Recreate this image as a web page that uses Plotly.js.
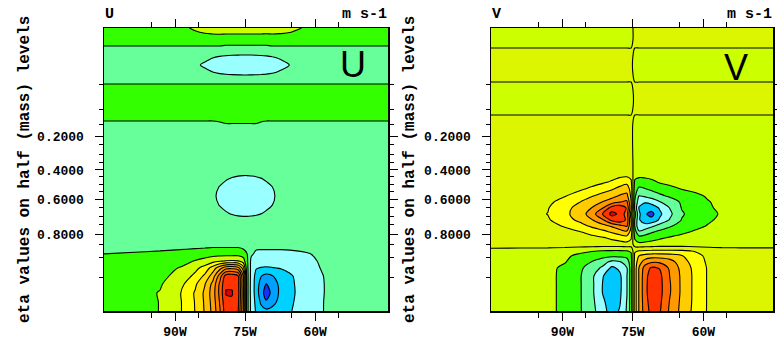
<!DOCTYPE html>
<html><head><meta charset="utf-8">
<script src="https://cdn.plot.ly/plotly-3.0.1.min.js"></script>
<style>html,body{margin:0;padding:0;background:#fff}#chart{width:777px;height:339px}</style>
</head><body><div id="chart"></div>
<script>
// ---------- U panel (m s-1), grid ----------
const uLon = [-105.2, -98.6, -93.2, -88.9, -85.7, -83.6, -81.9, -80.4, -79.1, -77.8, -76.5, -75.4, -74.6, -73.7, -72.6, -71.6, -70.5, -69.2, -67.5, -65.4, -62.1, -57.9, -53.6, -44.4];
const uLevel = [0, 0.95, 1.91, 2.86, 3.71, 4.56, 5.30, 6.04, 6.78, 7.74, 8.80, 9.44, 10.39, 11.24, 12.19, 13.15, 13.99, 14.95, 15.80, 18.13, 19.51, 20.78, 23.43, 24.70, 25.34, 26.08, 26.82, 27.46, 28.73, 30.0];
const uGrid = [
 [3.0, 3.3, 4.05, 5.8, 8.05, 10.2, 12.6, 15.8, 19.2, 19.4, 18.2, 12.3, 3.0, -0.6, -2.3, -3.3, -3.5, -3.3, -2.9, -2.1, -1.3, 0.1, 0.9, 1.1],
 [3.0, 3.3, 4.05, 5.8, 8.1, 10.3, 12.8, 16.2, 19.6, 19.8, 18.6, 12.5, 3.0, -0.6, -2.6, -4.3, -5.8, -4.8, -3.3, -2.2, -1.4, 0.1, 0.9, 1.1],
 [3.0, 3.3, 4.1, 5.9, 8.2, 10.4, 13.0, 16.6, 20.1, 20.1, 18.9, 12.6, 3.0, -0.7, -2.9, -5.2, -6.8, -5.6, -3.6, -2.3, -1.4, 0.05, 0.9, 1.1],
 [3.0, 3.3, 3.8, 5.4, 7.6, 9.9, 12.6, 16.4, 19.8, 19.8, 18.7, 12.4, 3.0, -0.7, -2.9, -4.8, -6.1, -5.2, -3.5, -2.3, -1.3, 0.05, 0.9, 1.1],
 [2.9, 3.1, 3.6, 4.5, 6.5, 8.4, 11.0, 15.0, 19.0, 19.2, 18.3, 12.2, 3.0, -0.6, -2.7, -3.9, -4.6, -4.1, -3.2, -2.2, -1.2, 0.1, 0.9, 1.1],
 [2.7, 2.9, 3.3, 4.1, 5.4, 6.8, 8.9, 11.3, 13.2, 13.5, 12.8, 9.0, 2.8, -0.5, -1.9, -2.1, -2.2, -2.1, -1.9, -1.6, -0.9, 0.3, 1.0, 1.1],
 [2.4, 2.6, 2.9, 3.3, 4.1, 4.6, 5.3, 5.8, 6.1, 6.2, 6.1, 5.0, 2.5, -0.4, -0.9, -1.0, -1.0, -1.0, -1.0, -0.9, -0.6, 0.4, 1.0, 1.1],
 [2.02, 2.2, 2.4, 2.7, 3.0, 3.2, 3.3, 3.3, 3.3, 3.3, 3.3, 3.0, 2.1, 0.3, -0.4, -0.5, -0.5, -0.5, -0.5, -0.45, -0.2, 0.5, 1.0, 1.0],
 [1.3, 1.4, 1.5, 1.6, 1.7, 1.8, 1.9, 1.9, 1.9, 1.9, 1.9, 1.6, 1.2, 0.6, 0.3, 0.3, 0.3, 0.3, 0.3, 0.35, 0.6, 0.9, 1.0, 1.0],
 [1, 1, 1, 1, 1, 1, 1, 1, 1, 1, 1, 1, 1, 1, 1, 1, 1, 1, 1, 1, 1, 1, 1, 1],
 [1, 1, 1, 1, 1, 1, 1, 1, 1, 1, 1, 1, 1, 1, 1, 1, 1, 1, 1, 1, 1, 1, 1, 1],
 [1, 1, 1, 1, 1, 1, 1, 1, 1, 1, 0.95, 0.9, 0.9, 0.95, 1, 1, 1, 1, 1, 1, 1, 1, 1, 1],
 [1, 1, 1, 1, 1, 1, 1, 0.64, 0.15, -0.21, -0.45, -0.54, -0.55, -0.49, -0.35, -0.11, 0.22, 0.74, 1, 1, 1, 1, 1, 1],
 [1, 1, 1, 1, 1, 1, 0.64, -0.11, -0.61, -0.97, -1.20, -1.29, -1.30, -1.25, -1.10, -0.86, -0.53, -0.03, 0.88, 1, 1, 1, 1, 1],
 [1, 1, 1, 1, 1, 1, 0.34, -0.41, -0.90, -1.26, -1.50, -1.59, -1.60, -1.54, -1.40, -1.16, -0.83, -0.31, 0.59, 1, 1, 1, 1, 1],
 [1, 1, 1, 1, 1, 1, 0.64, -0.11, -0.61, -0.97, -1.20, -1.29, -1.30, -1.25, -1.10, -0.86, -0.53, -0.03, 0.88, 1, 1, 1, 1, 1],
 [1, 1, 1, 1, 1, 1, 1, 0.64, 0.15, -0.21, -0.45, -0.54, -0.55, -0.49, -0.35, -0.11, 0.22, 0.74, 1, 1, 1, 1, 1, 1],
 [1, 1, 1, 1, 1, 1, 1, 1, 1, 1, 0.95, 0.9, 0.9, 0.95, 1, 1, 1, 1, 1, 1, 1, 1, 1, 1],
 [1, 1, 1, 1, 1, 1, 1, 1, 1, 1, 1, 1, 1, 1, 1, 1, 1, 1, 1, 1, 1, 1, 1, 1],
 [1, 1, 1, 1, 1, 1, 1, 1, 1, 1, 1, 1, 1, 1, 1, 1, 1, 1, 1, 1, 1, 1, 1, 1],
 [1, 1, 1, 1, 1, 1, 1, 1.3, 1.6, 1.6, 1.6, 1.6, 1.6, 1.6, 1.6, 1.3, 1, 1, 1, 1, 1, 1, 1, 1],
 [3, 3, 3, 3, 3, 3, 3, 3, 3, 3, 3, 3, 3, 3, 3, 3, 3, 3, 3, 3, 3, 3, 3, 3],
 [3, 3, 3, 3, 3, 3, 3, 3, 3, 3, 3, 3, 3, 3, 3, 3, 3, 3, 3, 3, 3, 3, 3, 3],
 [1, 1, 1, 1, 1, 1, 1, 1, 1, 1, 1, 1, 1, 1, 1, 1, 1, 1, 1, 1, 1, 1, 1, 1],
 [1, 1, 1, 1, 1, 0.53, -0.02, -0.38, -0.63, -0.81, -0.92, -0.97, -0.97, -0.94, -0.86, -0.73, -0.55, -0.28, 0.18, 0.93, 1, 1, 1, 1],
 [1, 1, 1, 1, 0.45, -0.40, -0.94, -1.31, -1.56, -1.74, -1.85, -1.90, -1.90, -1.87, -1.79, -1.66, -1.49, -1.22, -0.75, 0.05, 1, 1, 1, 1],
 [1, 1, 1, 1, 1, 0.53, -0.02, -0.38, -0.63, -0.81, -0.92, -0.97, -0.97, -0.94, -0.86, -0.73, -0.55, -0.28, 0.18, 0.93, 1, 1, 1, 1],
 [1, 1, 1, 1, 1, 1, 1, 1, 1, 1, 1, 1, 1, 1, 1, 1, 1, 1, 1, 1, 1, 1, 1, 1],
 [3, 3, 3, 3, 3, 3, 3, 3, 2.8, 2.8, 2.8, 2.8, 2.8, 2.8, 2.8, 2.8, 2.8, 3, 3, 3, 3, 3, 3, 3],
 [3, 3, 3, 3.5, 4.3, 4.8, 5.0, 5.1, 5.2, 5.2, 5.2, 5.2, 5.2, 5.2, 5.2, 5.2, 5.1, 5.0, 4.9, 4.6, 3.8, 3.2, 3, 3]
];
const uContour = {start: -6, end: 20, size: 2};
const uColors = ['#1432ff', '#00a0ff', '#00d2ff', '#99ffff', '#66ff99', '#33ff00', '#ccff00', '#ffff00', '#ffe000', '#ffc000', '#ffa000', '#ff8000', '#ff6000', '#ff3300', '#dd0000'];

// ---------- V panel (m s-1) ----------
const vLon = [-105.2, -99.0, -93.1, -89.5, -86.3, -83.7, -81.4, -79.5, -77.8, -76.3, -75.4, -74.6, -73.7, -72.4, -71.0, -69.3, -67.1, -64.6, -61.8, -59.0, -56.1, -52.2, -45.2];
const vLevel = [0, 0.95, 1.91, 2.86, 3.71, 4.56, 5.19, 5.83, 6.36, 7.10, 7.74, 8.37, 9.01, 9.65, 10.28, 10.92, 11.56, 12.19, 12.93, 13.68, 14.42, 15.48, 20.04, 21.52, 23.43, 25.12, 27.03, 28.73, 30.0];
const vGrid = [
 [-0.5, -0.55, -0.75, -1.25, -1.9, -2.7, -3.6, -4.5, -3.9, -2.9, -1.5, 1.5, 3.1, 4.6, 5.3, 5.1, 3.8, 2.7, 1.7, 0.9, 0.6, 0.5, 0.5],
 [-0.5, -0.55, -0.75, -1.25, -1.9, -2.75, -3.8, -4.6, -4.1, -2.95, -1.5, 1.5, 3.1, 4.7, 5.4, 5.2, 3.9, 2.75, 1.75, 0.9, 0.6, 0.5, 0.5],
 [-0.5, -0.55, -0.75, -1.25, -1.9, -2.8, -4.05, -4.7, -4.2, -3.05, -1.5, 1.5, 3.1, 4.8, 5.45, 5.3, 4.05, 2.8, 1.75, 0.9, 0.6, 0.5, 0.5],
 [-0.5, -0.55, -0.75, -1.25, -1.9, -2.8, -4.05, -4.7, -4.25, -3.05, -1.5, 1.5, 3.1, 4.8, 5.45, 5.3, 4.05, 2.8, 1.75, 0.9, 0.6, 0.5, 0.5],
 [-0.5, -0.55, -0.75, -1.25, -1.9, -2.8, -3.95, -4.6, -4.2, -3.05, -1.5, 1.5, 3.1, 4.75, 5.4, 5.25, 3.95, 2.8, 1.75, 0.9, 0.6, 0.5, 0.5],
 [-0.5, -0.55, -0.75, -1.2, -1.8, -2.5, -3.2, -4.2, -3.8, -3.05, -1.5, 1.5, 3.05, 4.5, 5.15, 4.95, 3.8, 2.7, 1.7, 0.9, 0.6, 0.5, 0.5],
 [-0.5, -0.55, -0.7, -0.95, -1.5, -2.05, -2.6, -3.3, -3.1, -2.6, -1.4, 1.4, 2.6, 3.5, 3.9, 3.85, 3.4, 2.5, 1.5, 0.85, 0.6, 0.5, 0.5],
 [-0.5, -0.5, -0.6, -0.85, -1.2, -1.5, -1.7, -1.8, -1.8, -1.7, -1.2, 1.2, 2.05, 2.4, 2.6, 2.6, 2.5, 2.1, 1.3, 0.8, 0.6, 0.5, 0.5],
 [-0.4, -0.45, -0.5, -0.6, -0.8, -0.95, -1.05, -1.1, -1.1, -1.05, -0.9, 0.9, 1.05, 1.15, 1.2, 1.2, 1.2, 1.15, 0.95, 0.7, 0.55, 0.5, 0.5],
 [0.6, 0.6, 0.6, 0.6, 0.6, 0.6, 0.6, 0.6, 0.6, 0.7, 0.6, -0.6, -0.8, -0.75, -0.7, -0.6, -0.6, -0.6, -0.6, -0.6, -0.6, -0.6, -0.6],
 [0.5, 0.5, 0.55, 0.6, 0.65, 0.75, 0.9, 1.15, 1.4, 1.55, 1.1, -1.1, -1.6, -1.5, -1.3, -1.1, -0.9, -0.75, -0.65, -0.55, -0.5, -0.5, -0.5],
 [0.5, 0.5, 0.6, 0.7, 0.95, 1.3, 1.7, 2.1, 2.5, 2.8, 1.6, -1.6, -2.8, -2.5, -2.1, -1.75, -1.45, -1.15, -0.9, -0.7, -0.6, -0.5, -0.5],
 [0.5, 0.55, 0.7, 1.08, 1.6, 2.2, 2.65, 3.15, 3.7, 4.1, 2.05, -2.05, -3.95, -3.6, -3.2, -2.6, -2.1, -1.6, -1.2, -0.95, -0.75, -0.55, -0.5],
 [0.5, 0.6, 0.9, 1.55, 2.25, 2.95, 3.9, 5.3, 5.7, 4.8, 2.05, -2.05, -3.9, -4.6, -4.7, -3.85, -2.9, -1.95, -1.5, -1.1, -0.85, -0.6, -0.5],
 [0.5, 0.6, 1.02, 1.75, 2.5, 3.5, 5.05, 6.3, 5.8, 4.5, 1.5, -1.5, -3.8, -4.9, -5.3, -4.2, -3.2, -2.1, -1.6, -1.25, -0.9, -0.6, -0.5],
 [0.5, 0.6, 0.95, 1.7, 2.35, 3.05, 3.98, 5.5, 5.8, 4.9, 2.3, -2.3, -4.1, -4.8, -4.6, -3.9, -2.95, -1.95, -1.55, -1.1, -0.85, -0.6, -0.5],
 [0.5, 0.55, 0.8, 1.35, 1.98, 2.5, 3.05, 3.5, 3.95, 4.2, 2.05, -2.05, -3.6, -3.85, -3.6, -3.05, -2.5, -1.85, -1.4, -1.05, -0.75, -0.55, -0.5],
 [0.5, 0.5, 0.6, 0.95, 1.45, 1.95, 2.35, 2.7, 3.1, 3.3, 1.8, -1.8, -3.05, -2.85, -2.6, -2.2, -1.85, -1.5, -1.2, -0.9, -0.65, -0.5, -0.5],
 [0.5, 0.5, 0.5, 0.6, 0.85, 1.2, 1.6, 1.9, 2.3, 2.6, 1.6, -1.6, -2.2, -2.05, -1.8, -1.55, -1.3, -0.98, -0.8, -0.65, -0.55, -0.5, -0.5],
 [0.5, 0.5, 0.5, 0.5, 0.55, 0.65, 0.85, 1.1, 1.5, 1.7, 1.2, -1.2, -1.5, -1.4, -1.2, -0.9, -0.7, -0.6, -0.55, -0.5, -0.5, -0.5, -0.5],
 [0.5, 0.5, 0.5, 0.5, 0.5, 0.55, 0.6, 0.65, 0.7, 0.75, 0.6, -0.6, -0.7, -0.7, -0.65, -0.6, -0.55, -0.5, -0.5, -0.5, -0.5, -0.5, -0.5],
 [0.5, 0.5, 0.5, 0.5, 0.5, 0.5, 0.5, 0.5, 0.5, 0.5, 0.5, -0.5, -0.5, -0.5, -0.5, -0.5, -0.5, -0.5, -0.5, -0.5, -0.5, -0.5, -0.5],
 [0.5, 0.5, 0.5, 0.5, 0.5, 0.5, 0.5, 0.5, 0.5, 0.5, 0.5, -0.5, -0.5, -0.5, -0.5, -0.5, -0.5, -0.5, -0.5, -0.5, -0.5, -0.5, -0.5],
 [-0.5, -0.5, -0.5, -0.5, -0.5, -0.5, -0.5, -0.5, -0.5, -0.5, -0.5, 0.5, 0.5, 0.5, 0.5, 0.5, 0.5, 0.5, 0.5, 0.5, 0.5, 0.5, 0.5],
 [-0.5, -0.5, -0.5, -0.5, -0.5, -0.5, -0.5, -0.5, -0.5, -0.5, -0.5, 0.5, 0.5, 0.5, 0.5, 0.5, 0.5, 0.5, 0.5, 0.5, 0.5, 0.5, 0.5],
 [0.5, 0.5, 0.5, 0.5, 0.5, 0.5, 0.5, 0.5, 0.5, 0.5, 0.5, -0.5, -0.5, -0.5, -0.5, -0.5, -0.5, -0.5, -0.5, -0.5, -0.5, -0.5, -0.5],
 [0.5, 0.5, 0.5, 0.5, 0.5, 0.5, 0.5, 0.5, 0.5, 0.5, 0.5, -0.5, -0.5, -0.5, -0.5, -0.5, -0.5, -0.5, -0.5, -0.5, -0.5, -0.5, -0.5],
 [-0.5, -0.5, -0.5, -0.5, -0.5, -0.5, -0.5, -0.5, -0.5, -0.5, -0.5, 0.5, 0.5, 0.5, 0.5, 0.5, 0.5, 0.5, 0.5, 0.5, 0.5, 0.5, 0.5],
 [-0.5, -0.5, -0.5, -0.5, -0.5, -0.5, -0.5, -0.5, -0.5, -0.5, -0.5, 0.5, 0.5, 0.5, 0.5, 0.5, 0.5, 0.5, 0.5, 0.5, 0.5, 0.5, 0.5]
];
const vContour = {start: -5, end: 6, size: 1};
const vColors = ['#1e32ff', '#00c8ff', '#99ffff', '#66ff99', '#33ff00', '#ccff00', '#dcf500', '#ffff00', '#ffcc00', '#ff9900', '#ff6600', '#ff3300', '#ee0000'];

// ---------- ticks ----------
const lonTickVals = [-90, -75, -60];
const lonTickText = ['90W', '75W', '60W'];
const lonMinorVals = [-95, -85, -65, -55];
const etaTickPos = [18.55, 14.95, 11.87, 8.16];
const etaTickText = ['0.2000', '0.4000', '0.6000', '0.8000'];
const etaMinorPos = [23.96, 21.41, 19.72, 17.60, 16.54, 15.69, 14.21, 13.46, 12.72, 10.92, 9.97, 9.12, 7.00, 5.62, 3.50];

function stepScale(colors) {
  const n = colors.length, s = [];
  colors.forEach((c, i) => {
    s.push([Math.max(0, (i - 0.5) / (n - 1)), c]);
    s.push([Math.min(1, (i + 0.5) / (n - 1)), c]);
  });
  return s;
}

function contourTrace(x, y, z, c, colors, xa, ya) {
  return {
    type: 'contour', x: x, y: y, z: z, xaxis: xa, yaxis: ya,
    autocontour: false,
    contours: {start: c.start, end: c.end, size: c.size, coloring: 'fill', showlines: true},
    colorscale: stepScale(colors), showscale: false,
    line: {color: '#000', width: 1.1, smoothing: 0.9},
    hoverinfo: 'skip'
  };
}

const W = 777, H = 339;
const tickFont = {family: 'Liberation Mono, monospace', size: 13, color: '#000', weight: 'bold'};
function xAxis(domain, range, anchor) {
  return {
    domain: domain, range: range, anchor: anchor,
    tickmode: 'array', tickvals: lonTickVals, ticktext: lonTickText,
    ticks: 'outside', ticklen: 8, tickwidth: 1, tickcolor: '#000',
    minor: {tickmode: 'array', tickvals: lonMinorVals, ticks: 'outside', ticklen: 5, tickwidth: 1, tickcolor: '#000', showgrid: false},
    showline: true, linecolor: '#000', linewidth: 1.5, mirror: 'allticks',
    showgrid: false, zeroline: false, tickfont: tickFont, ticklabelstandoff: 0, fixedrange: true
  };
}
function yAxis(anchor) {
  return {
    domain: [(H - 311) / H, (H - 28) / H], range: [0, 30], anchor: anchor,
    tickmode: 'array', tickvals: etaTickPos, ticktext: etaTickText,
    ticks: 'outside', ticklen: 8, tickwidth: 1, tickcolor: '#000',
    minor: {tickmode: 'array', tickvals: etaMinorPos, ticks: 'outside', ticklen: 4, tickwidth: 1, tickcolor: '#000', showgrid: false},
    showline: true, linecolor: '#000', linewidth: 1.5, mirror: 'allticks',
    showgrid: false, zeroline: false, tickfont: tickFont, ticklabelstandoff: 8, fixedrange: true
  };
}

const smallFont = {family: 'Liberation Mono, monospace', size: 15, color: '#000', weight: 'bold'};
const bigFont = {family: 'Liberation Sans, Arial, sans-serif', size: 36, color: '#000'};
const titleFont = {family: 'Liberation Mono, monospace', size: 16, color: '#000', weight: 'bold'};
function ann(text, px, py, xanchor, font, angle) {
  return {text: text, x: px / W, y: 1 - py / H, xref: 'paper', yref: 'paper', xanchor: xanchor, yanchor: 'middle',
          showarrow: false, font: font, textangle: angle || 0};
}

const data = [
  contourTrace(uLon, uLevel, uGrid, uContour, uColors, 'x', 'y'),
  contourTrace(vLon, vLevel, vGrid, vContour, vColors, 'x2', 'y2')
];

const layout = {
  width: W, height: H, margin: {l: 0, r: 0, t: 0, b: 0},
  paper_bgcolor: '#fff', plot_bgcolor: '#fff', showlegend: false,
  xaxis: xAxis([104 / W, 388 / W], [-105.2, -44.4], 'y'),
  yaxis: yAxis('x'),
  xaxis2: xAxis([491 / W, 773 / W], [-105.2, -45.2], 'y2'),
  yaxis2: yAxis('x2'),
  annotations: [
    ann('U', 103, 14, 'left', smallFont),
    ann('m s-1', 389, 14, 'right', smallFont),
    ann('V', 490, 14, 'left', smallFont),
    ann('m s-1', 774, 14, 'right', smallFont),
    ann('U', 353, 64, 'center', bigFont),
    ann('V', 736, 67, 'center', bigFont),
    ann('eta values on half (mass) levels', 25, 170, 'center', titleFont, -90),
    ann('eta values on half (mass) levels', 410, 170, 'center', titleFont, -90)
  ]
};

Plotly.newPlot('chart', data, layout, {displayModeBar: false, staticPlot: true});
</script>
</body></html>
